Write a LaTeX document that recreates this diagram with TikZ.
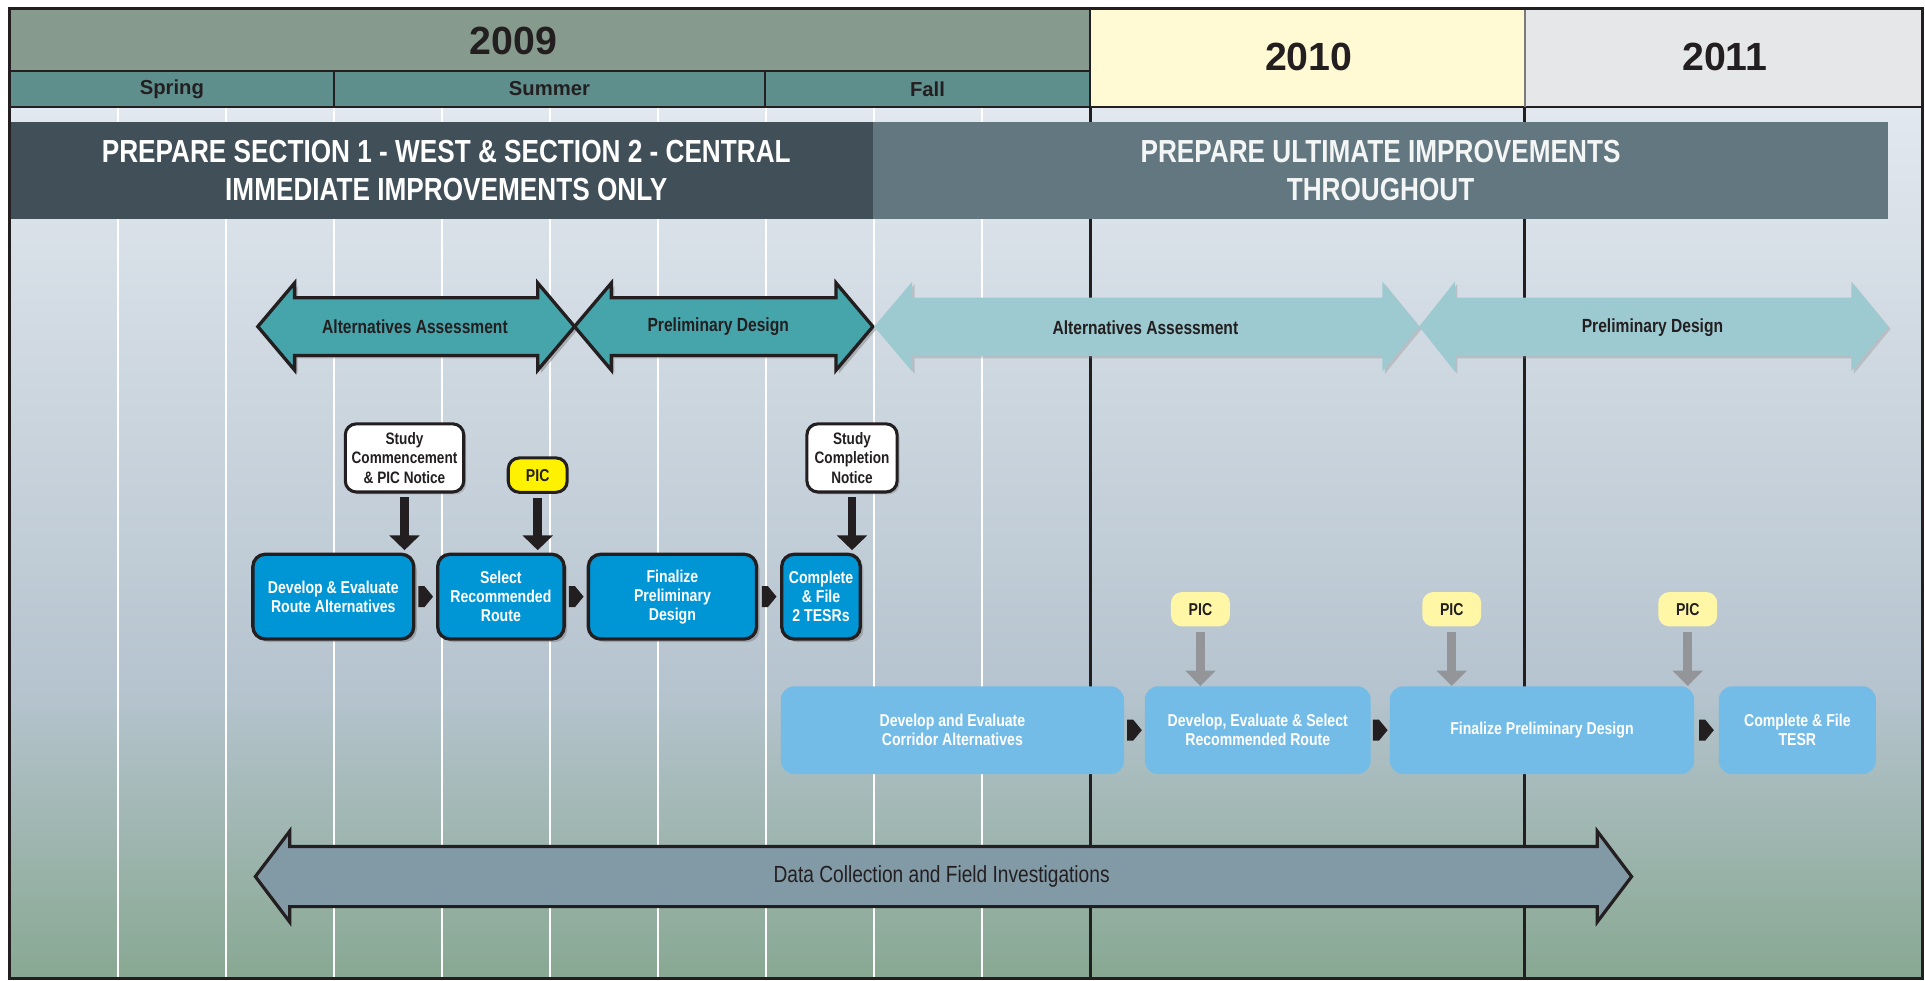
\documentclass[tikz,border=0pt]{standalone}
\usepackage{fontspec}
\setmainfont{Liberation Sans}
\newfontfamily\narrowfont{Liberation Sans}[FakeStretch=0.82]
\usetikzlibrary{arrows.meta,shadows,calc}

\definecolor{hdrgreen}{HTML}{869B8E}
\definecolor{seasonteal}{HTML}{5F8F8C}
\definecolor{yrtenfill}{HTML}{FFFAD3}
\definecolor{yrelevenfill}{HTML}{E6E7E8}
\definecolor{bandark}{HTML}{414F58}
\definecolor{banlight}{HTML}{637781}
\definecolor{arrdark}{HTML}{46A4AB}
\definecolor{arrlight}{HTML}{9DCAD0}
\definecolor{boxdark}{HTML}{0096D6}
\definecolor{boxlight}{HTML}{72BCE7}
\definecolor{picyellow}{HTML}{FFF200}
\definecolor{piclight}{HTML}{FFF7A6}
\definecolor{arrgray}{HTML}{939598}
\definecolor{datafill}{HTML}{8299A6}
\definecolor{ink}{HTML}{231F20}
\definecolor{bodytop}{HTML}{E2E8EF}
\definecolor{bodymid}{HTML}{B6C4CF}
\definecolor{bodybot}{HTML}{88A892}

\tikzset{
  gaptip/.pic={\fill[ink] (-6,-8.5) -- (-1,-8.5) -- (6,0) -- (-1,8.5) -- (-6,8.5) -- cycle;}
}

\begin{document}
\begin{tikzpicture}[x=1pt, y=-1pt,
  every node/.style={inner sep=0pt, text=ink},
  yearlbl/.style={font=\bfseries\fontsize{32}{36}\selectfont},
  seasonlbl/.style={font=\bfseries\fontsize{16.5}{18}\selectfont},
  banlbl/.style={text=white, align=center, font=\narrowfont\bfseries\fontsize{26}{30.5}\selectfont},
  arrlbl/.style={font=\narrowfont\bfseries\fontsize{15.5}{17}\selectfont},
  darkarrow/.style={draw=ink, line width=2.7pt, fill=arrdark, drop shadow={shadow xshift=2.5pt, shadow yshift=-2.5pt, opacity=0.5}},
  lightarrow/.style={fill=arrlight, drop shadow={shadow xshift=2pt, shadow yshift=-2pt, opacity=0.3}},
  darkbox/.style={draw=ink, line width=2.7pt, fill=boxdark, rounded corners=10pt, text=white, align=center,
    font=\narrowfont\bfseries\fontsize{14}{15.5}\selectfont, minimum height=69pt,
    drop shadow={shadow xshift=2.5pt, shadow yshift=-2.5pt, opacity=0.5}},
  lightbox/.style={fill=boxlight, rounded corners=11pt, text=white, align=center,
    font=\narrowfont\bfseries\fontsize{14}{15.5}\selectfont, minimum height=71.5pt},
  callout/.style={draw=ink, line width=2.5pt, fill=white, rounded corners=9pt, align=center,
    font=\narrowfont\bfseries\fontsize{13.5}{16}\selectfont, minimum height=55.5pt,
    drop shadow={shadow xshift=2pt, shadow yshift=-2pt, opacity=0.4}},
  picbox/.style={rounded corners=9pt, font=\narrowfont\bfseries\fontsize{14}{16}\selectfont,
    minimum width=48pt, minimum height=28pt},
  callarrow/.style={draw=ink, line width=7pt, -{Triangle[width=24pt,length=12pt]}},
  picarrow/.style={draw=arrgray, line width=7pt, -{Triangle[width=24pt,length=12.5pt]}},
  monthline/.style={white, line width=1.2pt},
  yearline/.style={ink, line width=2.6pt},
  gridline/.style={ink, line width=1.8pt},
]
\useasboundingbox (0,0) rectangle (1568,799);

% background of the body
\shade[top color=bodytop, bottom color=bodymid] (8,87) rectangle (1566,560);
\shade[top color=bodymid, bottom color=bodybot] (8,560) rectangle (1566,797);
\foreach \mx in {96,184,...,800}
  \draw[monthline] (\mx,87) -- (\mx,797);
\draw[yearline] (888,87) -- (888,797);
\draw[yearline] (1242,87) -- (1242,797);

% year and season header
\fill[hdrgreen] (8,7) rectangle (888,58);
\fill[seasonteal] (8,58) rectangle (888,87);
\fill[yrtenfill] (888,7) rectangle (1242,87);
\fill[yrelevenfill] (1242,7) rectangle (1566,87);
\draw[gridline] (8,58) -- (888,58);
\draw[gridline] (8,87) -- (1566,87);
\draw[gridline] (272,58) -- (272,87);
\draw[gridline] (623,58) -- (623,87);
\draw[ink, line width=1.2pt] (888,7) -- (888,87);
\draw[ink!60, line width=1.2pt] (1242,7) -- (1242,87);
\node[yearlbl] (yrnine) at (418,33.5) {2009};
\node[yearlbl] (yrten) at (1066,46.5) {2010};
\node[yearlbl] (yreleven) at (1405,46.5) {2011};
\node[seasonlbl] (spring) at (140,72.5) {Spring};
\node[seasonlbl] (summer) at (447.5,72.5) {Summer};
\node[seasonlbl] (fall) at (755.5,72.5) {Fall};

% banner
\fill[bandark] (8,99) rectangle (711,178);
\fill[banlight] (711,99) rectangle (1538,178);
\node[banlbl] (banleft) at (363.5,139) {PREPARE SECTION 1 - WEST \& SECTION 2 - CENTRAL\\IMMEDIATE IMPROVEMENTS ONLY};
\node[banlbl, text=white!93!banlight] (banright) at (1124.5,139) {PREPARE ULTIMATE IMPROVEMENTS\\THROUGHOUT};

% phase arrows
\draw[darkarrow] (210,266) -- (240,230.5) -- (240,242.5) -- (438,242.5) -- (438,230.5) -- (468,266)
  -- (438,301.5) -- (438,289.5) -- (240,289.5) -- (240,301.5) -- cycle;
\draw[darkarrow] (468,266) -- (498,230.5) -- (498,242.5) -- (681,242.5) -- (681,230.5) -- (711,266)
  -- (681,301.5) -- (681,289.5) -- (498,289.5) -- (498,301.5) -- cycle;
\fill[lightarrow] (712,266) -- (743,229.5) -- (743,242.5) -- (1126,242.5) -- (1126,229.5) -- (1156,266)
  -- (1126,302.5) -- (1126,290) -- (743,290) -- (743,302.5) -- cycle;
\fill[lightarrow] (1156,266) -- (1185,229.5) -- (1185,242.5) -- (1508,242.5) -- (1508,229.5) -- (1538,266)
  -- (1508,302.5) -- (1508,290) -- (1185,290) -- (1185,302.5) -- cycle;
\node[arrlbl] (altdark) at (338,266) {Alternatives Assessment};
\node[arrlbl] (prelimdark) at (585,266) {Preliminary Design};
\node[arrlbl] (altlight) at (933,267) {Alternatives Assessment};
\node[arrlbl] (prelimlight) at (1346,267) {Preliminary Design};

% first study
\node[callout, minimum width=96.5pt] (commence) at (329.5,373) {Study\\Commencement\\\& PIC Notice};
\node[picbox, draw=ink, line width=2.5pt, fill=picyellow] (picmain) at (438,387) {PIC};
\node[callout, minimum width=73.5pt] (completion) at (694,373) {Study\\Completion\\Notice};

\node[darkbox, minimum width=131pt] (devroute) at (271.5,486) {Develop \& Evaluate\\Route Alternatives};
\node[darkbox, minimum width=103pt] (selroute) at (408,486) {Select\\Recommended\\Route};
\node[darkbox, minimum width=137pt] (finprelim) at (547.75,486) {Finalize\\Preliminary\\Design};
\node[darkbox, minimum width=64pt] (filetesrs) at (668.75,486) {Complete\\\& File\\2 TESRs};

\draw[callarrow] ([yshift=-3pt]commence.south) -- ([yshift=2pt]commence.south |- devroute.north);
\draw[callarrow] ([yshift=-3pt]picmain.south) -- ([yshift=2pt]picmain.south |- selroute.north);
\draw[callarrow] ([yshift=-3pt]completion.south) -- ([yshift=2pt]completion.south |- filetesrs.north);

\pic at ($(devroute.east)!0.5!(selroute.west)$) {gaptip};
\pic at ($(selroute.east)!0.5!(finprelim.west)$) {gaptip};
\pic at ($(finprelim.east)!0.5!(filetesrs.west)$) {gaptip};

% ultimate study
\node[lightbox, minimum width=279.6pt] (corridor) at (775.8,594.75) {Develop and Evaluate\\Corridor Alternatives};
\node[lightbox, minimum width=184pt] (devselect) at (1024.5,594.75) {Develop, Evaluate \& Select\\Recommended Route};
\node[lightbox, minimum width=248pt] (finlight) at (1256,594.75) {Finalize Preliminary Design};
\node[lightbox, minimum width=128pt] (filetesr) at (1464,594.75) {Complete \& File\\TESR};

\node[picbox, fill=piclight] (picone) at (977.8,496.25) {PIC};
\node[picbox, fill=piclight] (pictwo) at (1182.5,496.25) {PIC};
\node[picbox, fill=piclight] (picthree) at (1374.75,496.25) {PIC};

\draw[picarrow] ([yshift=-4.5pt]picone.south) -- (picone.south |- devselect.north);
\draw[picarrow] ([yshift=-4.5pt]pictwo.south) -- (pictwo.south |- finlight.north);
\draw[picarrow] ([yshift=-4.5pt]picthree.south) -- (picthree.south |- finlight.north);

\pic at ($(corridor.east)!0.5!(devselect.west)$) {gaptip};
\pic at ($(devselect.east)!0.5!(finlight.west)$) {gaptip};
\pic at ($(finlight.east)!0.5!(filetesr.west)$) {gaptip};

% data collection
\draw[draw=ink, line width=2.6pt, fill=datafill] (208,714) -- (236,677) -- (236,689.5) -- (1301,689.5) -- (1301,677) -- (1329,714)
  -- (1301,751) -- (1301,738.5) -- (236,738.5) -- (236,751) -- cycle;
\node[font=\narrowfont\fontsize{19}{21}\selectfont] (datalbl) at (767,714) {Data Collection and Field Investigations};

% frame
\draw[ink, line width=2.5pt] (8,7) rectangle (1566,797);
\end{tikzpicture}
\end{document}
